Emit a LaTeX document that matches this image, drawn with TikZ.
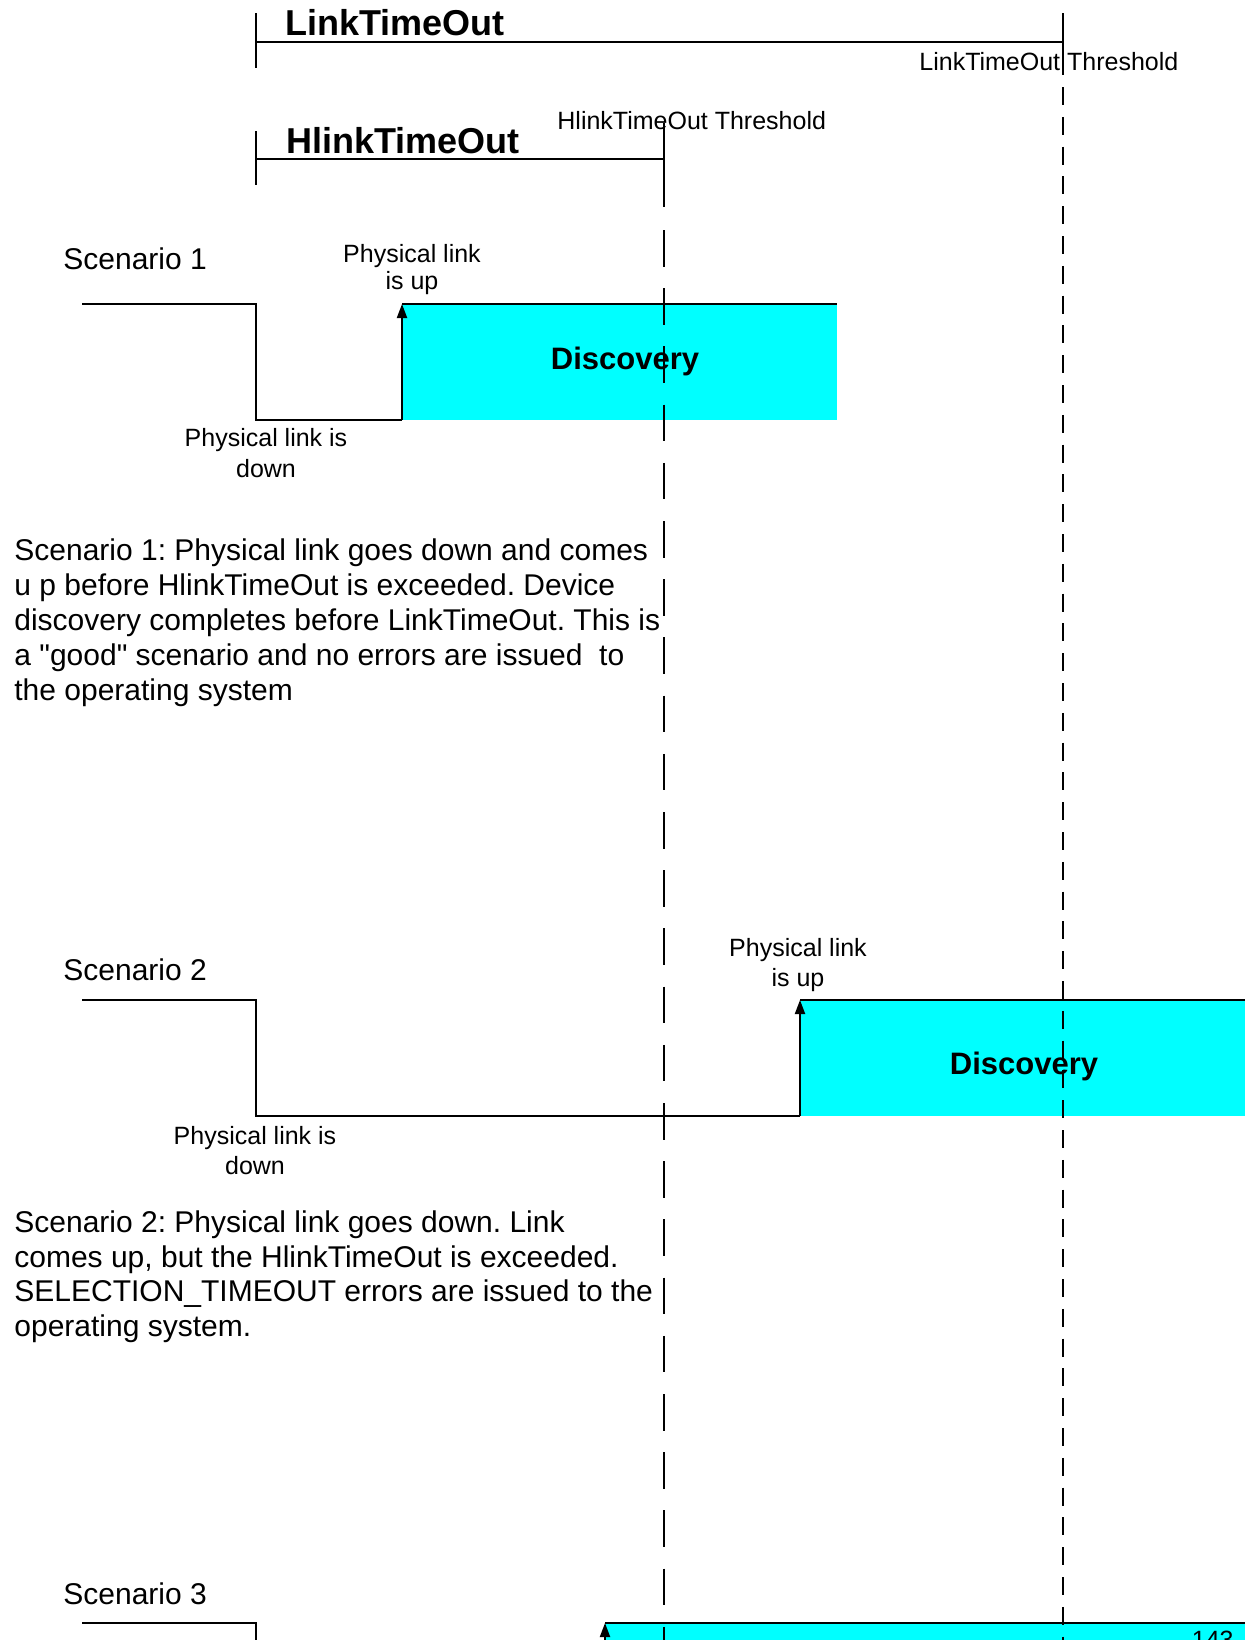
\documentclass[tikz,border=0pt]{standalone}
\usepackage{fontspec}
\setmainfont{Liberation Sans}[Ligatures=TeXOff]
\usetikzlibrary{arrows.meta}
\definecolor{disc}{HTML}{00FFFF}
\frenchspacing
\begin{document}
\begin{tikzpicture}[x=0.5pt,y=-0.5pt,
  wave/.style={line width=1pt, line join=miter, line cap=butt},
  lbl/.style={inner sep=0pt, font=\fontsize{12.5}{15}\selectfont},
  para/.style={inner sep=0pt, anchor=base west, font=\fontsize{15}{18}\selectfont},
  titlelbl/.style={inner sep=0pt, anchor=base west, font=\fontsize{18}{21}\selectfont\bfseries},
  disctext/.style={inner sep=0pt, anchor=base, font=\fontsize{15.5}{18}\selectfont\bfseries},
  hdash/.style={line width=1pt, dash pattern=on 18.25pt off 10.85pt},
  ldash/.style={line width=1pt, dash pattern=on 9pt off 5.9pt},
  uparrow/.style={-{Triangle[length=7pt,width=5pt]}}
]
\fill[white] (0,0) rectangle (1249,1640);
\useasboundingbox (0,0) rectangle (1249,1640);

% ---------- cyan discovery areas ----------
\fill[disc] (402,304) rectangle (837,420);
\fill[disc] (800,1000) rectangle (1245,1116);
\fill[disc] (605,1623) rectangle (1245,1660);

% ---------- timeout brackets ----------
\node[titlelbl] (lto) at (285,35) {LinkTimeOut};
\draw[wave] (256,13) -- (256,68);
\draw[wave] (256,42) -- (1063,42);
\draw[wave] (1063,13) -- (1063,75);
\node[lbl, anchor=base west] (ltothr) at (919,70) {LinkTimeOut Threshold};

\node[titlelbl] (hto) at (286,153) {HlinkTimeOut};
\draw[wave] (256,131) -- (256,185);
\draw[wave] (256,159) -- (664,159);
\draw[wave] (664,123) -- (664,207);
\node[lbl, anchor=base west] (htothr) at (557,129) {HlinkTimeOut Threshold};

% ---------- Scenario 1 ----------
\node[para] (s1) at (63,269) {Scenario 1};
\draw[wave] (82,304) -- (256,304) -- (256,420) -- (402,420);
\draw[wave, uparrow] (402,420) -- (402,304);
\draw[wave] (402,304) -- (837,304);
\node[lbl, anchor=base] (s1upa) at (412,262) {Physical link};
\node[lbl, anchor=base] (s1upb) at (412,289) {is up};
\node[lbl, anchor=base] (s1dna) at (266,446) {Physical link is};
\node[lbl, anchor=base] (s1dnb) at (266,477) {down};
\node[disctext] (d1) at (625,369) {Discovery};

\node[para] (p1a) at (14,560) {Scenario 1: Physical link goes down and comes};
\node[para] (p1b) at (14,595) {u p before HlinkTimeOut is exceeded. Device};
\node[para] (p1c) at (14,630) {discovery completes before LinkTimeOut. This is};
\node[para] (p1d) at (14,665) {a "good" scenario and no errors are issued~ to};
\node[para] (p1e) at (14,700) {the operating system};

% ---------- Scenario 2 ----------
\node[para] (s2) at (63,980) {Scenario 2};
\draw[wave] (82,1000) -- (256,1000) -- (256,1116) -- (800,1116);
\draw[wave, uparrow] (800,1116) -- (800,1000);
\draw[wave] (800,1000) -- (1245,1000);
\node[lbl, anchor=base] (s2upa) at (798,956) {Physical link};
\node[lbl, anchor=base] (s2upb) at (798,986) {is up};
\node[lbl, anchor=base] (s2dna) at (255,1144) {Physical link is};
\node[lbl, anchor=base] (s2dnb) at (255,1174) {down};
\node[disctext] (d2) at (1024,1074) {Discovery};

\node[para] (p2a) at (14,1232) {Scenario 2: Physical link goes down. Link};
\node[para] (p2b) at (14,1267) {comes up, but the HlinkTimeOut is exceeded.};
\node[para] (p2c) at (14,1301) {SELECTION\_TIMEOUT errors are issued to the};
\node[para] (p2d) at (14,1336) {operating system.};

% ---------- Scenario 3 ----------
\node[para] (s3) at (63,1604) {Scenario 3};
\draw[wave] (82,1623) -- (256,1623) -- (256,1660);
\draw[wave, uparrow] (605,1670) -- (605,1623);
\draw[wave] (605,1623) -- (1245,1623);
\node[lbl, anchor=base east] (pgno) at (1234,1648) {143};

% ---------- threshold lines ----------
\draw[hdash] (664,230) -- (664,1640);
\draw[ldash] (1063,87) -- (1063,1640);
\end{tikzpicture}
\end{document}
